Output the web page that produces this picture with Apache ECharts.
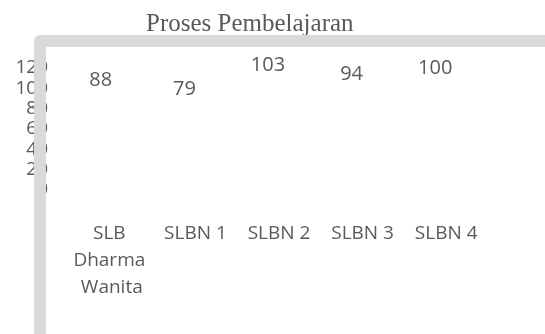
<!DOCTYPE html>
<html>
<head>
<meta charset="utf-8">
<script src="https://cdn.jsdelivr.net/npm/echarts@6/dist/echarts.min.js"></script>
<style>
  html, body { margin: 0; padding: 0; background: #fff; }
  #chart { width: 545px; height: 334px; }
</style>
</head>
<body>
<div id="chart"></div>
<script>
// data
const categories = ['SLB Dharma Wanita', 'SLBN 1', 'SLBN 2', 'SLBN 3', 'SLBN 4'];
const values = [88, 79, 103, 94, 100];
const yTicks = { min: 0, max: 120, interval: 20 };

const textGray = '#595959';
const font = '"Open Sans", sans-serif';

let chart = echarts.init(document.getElementById('chart'));
chart.setOption({
  animation: false,
  title: {
    text: 'Proses Pembelajaran',
    left: 146,
    top: 12,
    padding: 0,
    textStyle: {
      fontFamily: '"Liberation Serif", serif',
      fontWeight: 'normal',
      fontSize: 25,
      color: textGray,
    },
  },
  grid: {
    left: 70,
    right: 57,
    top: 68,
    bottom: 144,
  },
  // the thick gray frame on the left and top
  graphic: [
    {
      type: 'polyline',
      z: 100,
      shape: { points: [[40, 340], [40, 41], [560, 41]] },
      style: { stroke: '#d9d9d9', lineWidth: 12, fill: null, lineJoin: 'round' },
    },
  ],
  xAxis: {
    type: 'category',
    data: categories,
    axisLine: { show: false },
    axisTick: { show: false },
    axisLabel: {
      interval: 0,
      margin: 30,
      width: 80,
      overflow: 'break',
      lineHeight: 27,
      fontFamily: font,
      fontSize: 19,
      color: textGray,
    },
  },
  yAxis: {
    type: 'value',
    min: yTicks.min,
    max: yTicks.max,
    interval: yTicks.interval,
    axisLine: { show: false },
    axisTick: { show: false },
    splitLine: { show: false },
    axisLabel: {
      margin: 22,
      fontFamily: font,
      fontSize: 19,
      color: textGray,
    },
  },
  series: [
    {
      type: 'bar',
      data: values,
      barWidth: '40%',
      itemStyle: { color: 'rgba(0,0,0,0)' },
      label: {
        show: true,
        position: 'top',
        distance: 10,
        offset: [-11, 0],
        fontFamily: font,
        fontSize: 20,
        color: textGray,
      },
    },
  ],
});
</script>
</body>
</html>
